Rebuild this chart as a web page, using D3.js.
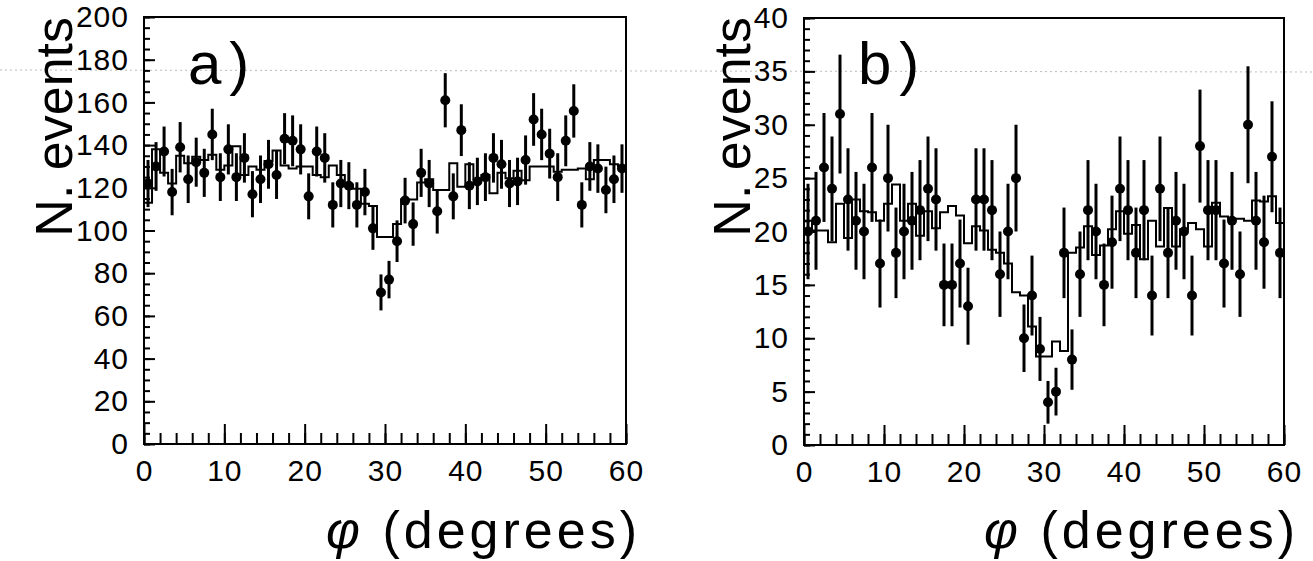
<!DOCTYPE html>
<html>
<head>
<meta charset="utf-8">
<script src="https://cdn.jsdelivr.net/npm/d3@7"></script>
<style>
  body { margin: 0; background: #fff; }
  text { font-family: "Liberation Sans", Arial, sans-serif; fill: #000; }
</style>
</head>
<body>
<div id="chart"></div>
<script>
// bins of 1 degree, 0..60
var nBins = 60;
var binIndex = d3.range(nBins);

// panel a) : data counts and expected (histogram)
var eventsA = [122,130,137,118,139,124,132,127,145,125,138,125,134,117,124,131,126,143,142,138,
               116,137,134,112,122,121,112,118,101,71,77,95,114,103,127,122,109,161,116,147,
               121,123,125,134,131,122,123,133,152,145,136,125,142,156,112,130,129,119,124,129];
var expectA = [113,138,127,122,135,131.5,134.5,133,135.5,128.5,130.5,139.5,126,130,128.5,132.5,137.5,130.5,129,130,
               130,126,125,130.5,126,121.5,119.5,112.5,111.5,97,97,103,114.5,114.5,122.5,124,119,119,131.5,120.5,
               131,124,126,117.5,127,124.5,128,123.5,130,130,130,127.5,128.5,128.5,129,124,133,133,131,130];

// panel b)
var eventsB = [20,21,26,24,31,23,21,20,26,17,25,18,20,21,22,24,23,15,15,17,
               13,23,23,22,16,20,25,10,14,9,4,5,18,8,16,22,20,15,19,24,
               22,18,22,14,24,18,21,20,14,28,22,22,17,21,16,30,21,19,27,18];
var expectB = [21,20.1,20.1,19,22.6,19.4,23,21.9,21.8,21,22.6,24.4,21,22.6,19.6,21.9,20.3,21.8,22.4,21.5,
               18.9,20.5,20.1,18.3,18,17,14.3,14,11.1,8.3,8.3,9.7,8.8,18,18.5,20.5,17.8,18.7,20.2,21.9,
               19.8,20.6,17.4,21,18.6,22.2,18.6,20.2,20.8,20.2,18.6,22.7,21.4,21.2,21.2,21,22.9,22.8,23.3,20.8];

var xTicks = [0,10,20,30,40,50,60];
var yTicksA = [0,20,40,60,80,100,120,140,160,180,200];
var yTicksB = [0,5,10,15,20,25,30,35,40];

var svg = d3.select("#chart").append("svg")
    .attr("width", 1313)
    .attr("height", 561);

// faint scan line across the page
svg.append("line")
    .attr("x1", 0).attr("y1", 70)
    .attr("x2", 1313).attr("y2", 72)
    .attr("stroke", "#bbb")
    .attr("stroke-width", 1)
    .attr("stroke-dasharray", "2,3");

function drawPanel(p) {
    var x = d3.scaleLinear().domain([0, 60]).range([p.left, p.right]);
    var y = d3.scaleLinear().domain([0, p.yMax]).range([p.bottom, p.top]);
    var g = svg.append("g");

    // minor ticks
    g.append("g")
        .attr("transform", "translate(0," + p.bottom + ")")
        .call(d3.axisBottom(x).tickValues(d3.range(0, 61, 2)).tickSize(-11).tickSizeOuter(0).tickFormat(""));
    g.append("g")
        .attr("transform", "translate(" + p.left + ",0)")
        .call(d3.axisLeft(y).tickValues(d3.range(0, p.yMax + 0.01, p.yMinor)).tickSize(-6).tickSizeOuter(0).tickFormat(""));
    // major ticks with labels
    g.append("g")
        .attr("class", "xaxis")
        .attr("transform", "translate(0," + p.bottom + ")")
        .call(d3.axisBottom(x).tickValues(xTicks).tickSize(-20).tickSizeOuter(0).tickPadding(16));
    g.append("g")
        .attr("class", "yaxis")
        .attr("transform", "translate(" + p.left + ",0)")
        .call(d3.axisLeft(y).tickValues(p.yTicks).tickSize(-11).tickSizeOuter(0).tickPadding(15));

    g.selectAll(".domain").remove();
    g.selectAll(".tick line").attr("stroke", "#000").attr("stroke-width", 2);
    g.selectAll(".tick text")
        .style("font-family", "'Liberation Sans', Arial, sans-serif")
        .style("font-size", "30px")
        .style("letter-spacing", "1px")
        .attr("fill", "#000");

    // frame
    g.append("rect")
        .attr("x", p.left).attr("y", p.top)
        .attr("width", p.right - p.left).attr("height", p.bottom - p.top)
        .attr("fill", "none")
        .attr("stroke", "#000")
        .attr("stroke-width", 2);

    // expected histogram (step)
    var steps = binIndex.map(function (i) { return [i, p.expect[i]]; });
    steps.push([nBins, p.expect[nBins - 1]]);
    var stepLine = d3.line()
        .x(function (d) { return x(d[0]); })
        .y(function (d) { return y(d[1]); })
        .curve(d3.curveStepAfter);
    g.append("path")
        .datum(steps)
        .attr("d", stepLine)
        .attr("fill", "none")
        .attr("stroke", "#000")
        .attr("stroke-width", 2);

    // error bars (poisson)
    g.selectAll("line.err")
        .data(binIndex)
        .enter().append("line")
        .attr("class", "err")
        .attr("x1", function (i) { return x(i + 0.5); })
        .attr("x2", function (i) { return x(i + 0.5); })
        .attr("y1", function (i) { return y(p.events[i] - Math.sqrt(p.events[i])); })
        .attr("y2", function (i) { return y(p.events[i] + Math.sqrt(p.events[i])); })
        .attr("stroke", "#000")
        .attr("stroke-width", 3);

    g.selectAll("circle")
        .data(binIndex)
        .enter().append("circle")
        .attr("cx", function (i) { return x(i + 0.5); })
        .attr("cy", function (i) { return y(p.events[i]); })
        .attr("r", 5)
        .attr("fill", "#000");

    // panel letter
    g.append("text")
        .attr("x", p.tagX)
        .attr("y", 84)
        .style("font-size", "60px")
        .style("letter-spacing", "8px")
        .text(p.tag);

    // axis titles
    g.append("text")
        .attr("transform", "translate(" + p.titleX + "," + 17 + ") rotate(-90)")
        .style("text-anchor", "end")
        .style("font-size", "52px")
        .text("N. events");

    var xt = g.append("text")
        .attr("x", p.right + 15)
        .attr("y", 548)
        .style("text-anchor", "end")
        .style("font-size", "52px")
        .style("letter-spacing", "4px");
    xt.append("tspan").style("font-style", "italic").text("\u03c6");
    xt.append("tspan").text("  (degrees)");
}

drawPanel({left: 144, right: 626, top: 17, bottom: 444, yMax: 200, yMinor: 5, titleX: 72,
           yTicks: yTicksA, events: eventsA, expect: expectA, tag: "a)", tagX: 188});
drawPanel({left: 804, right: 1284, top: 18, bottom: 445, yMax: 40, yMinor: 1, titleX: 750,
           yTicks: yTicksB, events: eventsB, expect: expectB, tag: "b)", tagX: 858});
</script>
</body>
</html>
